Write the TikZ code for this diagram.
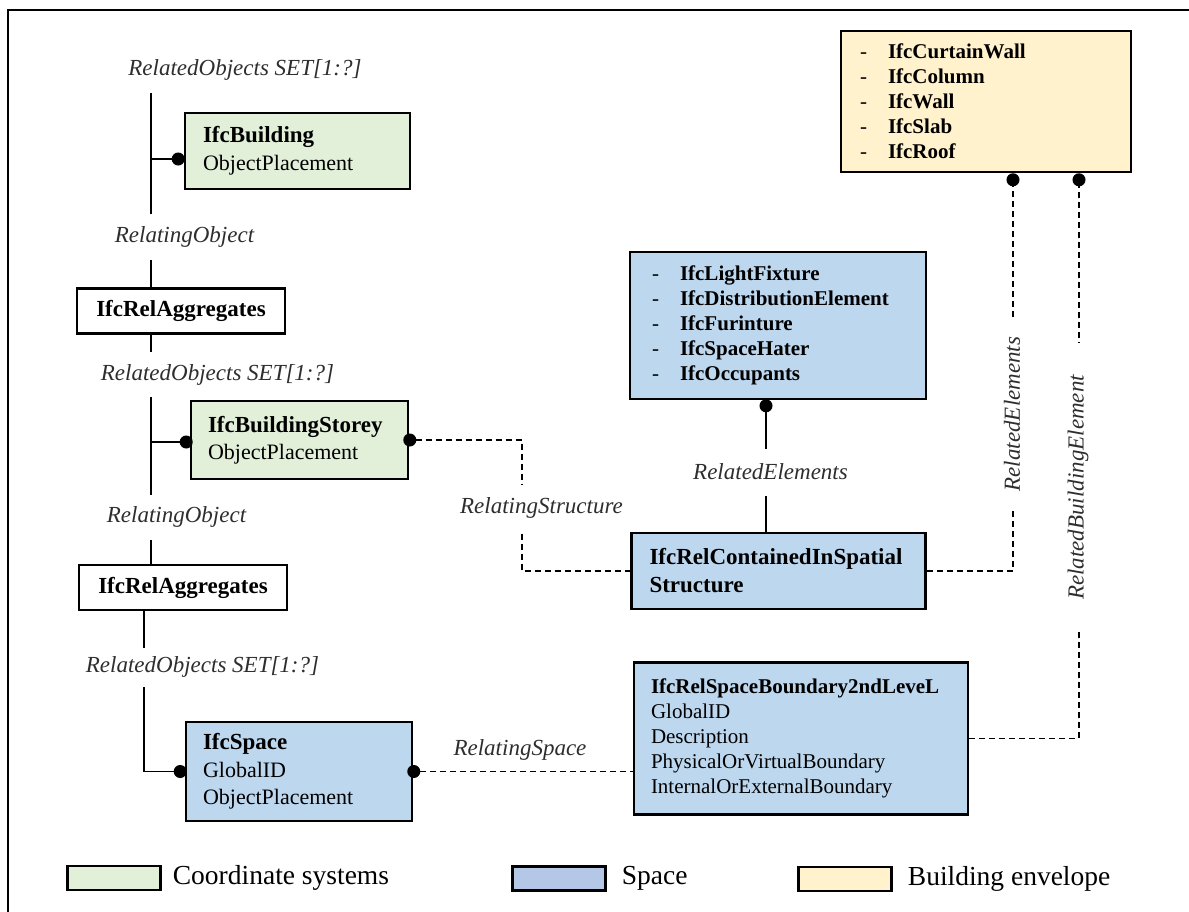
\documentclass[tikz,border=0pt]{standalone}
\usepackage{fontspec}
\setmainfont{Liberation Serif}
\usetikzlibrary{arrows.meta,calc}
\definecolor{cgreen}{HTML}{E2EFD9}
\definecolor{cblue}{HTML}{BDD7EE}
\definecolor{cbluelg}{HTML}{B4C7E7}
\definecolor{cyellow}{HTML}{FFF2CC}
\definecolor{lblgray}{HTML}{2E2E2E}
\newcommand\li[1]{\makebox[28pt][l]{\mdseries -}#1}
\newcommand\hd[1]{{\fontsize{23pt}{28pt}\selectfont\bfseries #1}}
\begin{document}
\begin{tikzpicture}[x=1pt,y=-1pt,
  box/.style={draw, line width=2.6pt, inner ysep=0pt, align=left},
  cbox/.style={draw, line width=2.6pt, inner sep=0pt, align=center, fill=white,
    minimum width=208pt, minimum height=45pt, font=\fontsize{23pt}{28pt}\selectfont\bfseries},
  lbl/.style={font=\fontsize{23pt}{27pt}\selectfont\itshape, text=lblgray, inner xsep=3pt, inner ysep=0pt},
  conn/.style={line width=1.3pt},
  dconn/.style={line width=1.3pt, dash pattern=on 6pt off 4pt},
  dotend/.style={-{Circle[length=13pt]}},
  dotstart/.style={{Circle[length=13pt]}-},
  lgbox/.style={draw, line width=2.4pt, minimum width=93pt, minimum height=24pt, inner sep=0pt},
  lgtext/.style={anchor=west, font=\fontsize{27.5pt}{30pt}\selectfont, inner ysep=0pt}
]
\useasboundingbox (0,0) rectangle (1189,911);
\clip (0,0) rectangle (1189,911);
\draw[line width=2.4pt] (8,930) -- (8,10) -- (1200,10);

% boxes
\node[box, fill=cgreen, text width=189pt, inner xsep=18pt, minimum height=76pt,
  font=\fontsize{22pt}{28pt}\selectfont] (bldg) at (297.5,151) {\hd{IfcBuilding}\\ObjectPlacement};
\node[cbox] (agg1) at (181,311) {IfcRelAggregates};
\node[box, fill=cgreen, text width=183pt, inner xsep=17pt, minimum height=78pt,
  font=\fontsize{22pt}{27pt}\selectfont] (storey) at (299.5,440) {\hd{IfcBuildingStorey}\\ObjectPlacement};
\node[cbox] (agg2) at (183,587.5) {IfcRelAggregates};
\node[box, fill=cblue, text width=192pt, inner xsep=17pt, minimum height=99pt,
  font=\fontsize{22pt}{27.5pt}\selectfont] (space) at (299,771.5) {\hd{IfcSpace}\\GlobalID\\ObjectPlacement};
\node[box, fill=cblue, text width=300pt, inner xsep=17pt, minimum height=152pt,
  font=\fontsize{21pt}{25pt}\selectfont] (srb) at (801,738.5)
  {\textbf{IfcRelSpaceBoundary2ndLeveL}\\GlobalID\\Description\\PhysicalOrVirtualBoundary\\InternalOrExternalBoundary};
\node[box, fill=cblue, text width=252pt, inner xsep=22pt, minimum height=147pt,
  font=\fontsize{21pt}{25pt}\selectfont\bfseries] (light) at (778,325.5)
  {\li{IfcLightFixture}\\\li{IfcDistributionElement}\\\li{IfcFurinture}\\\li{IfcSpaceHater}\\\li{IfcOccupants}};
\node[box, fill=cblue, text width=258pt, inner xsep=18pt, minimum height=76pt,
  font=\fontsize{23pt}{28pt}\selectfont\bfseries] (cont) at (778.5,571)
  {IfcRelContainedInSpatial\\Structure};
\node[box, fill=cyellow, text width=252pt, inner xsep=19pt, minimum height=141pt,
  font=\fontsize{21pt}{25pt}\selectfont\bfseries] (env) at (986,101.5)
  {\li{IfcCurtainWall}\\\li{IfcColumn}\\\li{IfcWall}\\\li{IfcSlab}\\\li{IfcRoof}};

% top label
\node[lbl, minimum height=46pt] (ro1) at (245,70) {RelatedObjects SET[1:?]};

% helper coordinates
\coordinate (x1) at (151,0);
\coordinate (x2) at (144,0);
\coordinate (x3) at (766,0);
\coordinate (x4) at (1013,0);
\coordinate (x5) at (1079,0);
\coordinate (b1) at (151,159);
\coordinate (b2) at (151,442);
\coordinate (j1) at (522,440);

% connectors
\draw[conn] (ro1.south -| x1) -- (agg1.north -| x1);
\draw[conn, dotend, shorten >=-1pt] (b1) -- (b1 -| bldg.west);
\draw[conn] (agg1.south -| x1) -- (agg2.north -| x1);
\draw[conn, dotend, shorten >=-3pt] (b2) -- (b2 -| storey.west);
\draw[conn, dotend, shorten >=-2pt] (agg2.south -| x2) |- (space.west);
\draw[dconn, dotstart, shorten <=-6pt] (storey.east) -- (j1) |- (cont.west);
\draw[conn, dotstart, shorten <=-1pt] (light.south -| x3) -- (cont.north -| x3);
\draw[dconn, dotstart, shorten <=-6pt] (space.east) -- (srb.west |- space.east);
\draw[dconn, dotend] (cont.east) -| (env.south -| x4);
\draw[dconn, dotend] (srb.east) -| (env.south -| x5);

% labels
\node[lbl, fill=white, minimum height=46pt] (rl1) at (184.5,237) {RelatingObject};
\node[lbl, fill=white, minimum height=45pt] (ro2) at (217.5,374.5) {RelatedObjects SET[1:?]};
\node[lbl, fill=white, minimum height=45pt] (rl2) at (176.5,517) {RelatingObject};
\node[lbl, fill=white, minimum height=39pt] (ro3) at (202.5,667) {RelatedObjects SET[1:?]};
\node[lbl, fill=white, minimum height=47pt] (rs) at (541.5,508) {RelatingStructure};
\node[lbl, fill=white, minimum height=47pt] (reh) at (770.5,472) {RelatedElements};
\node[lbl] (rsp) at (520,750) {RelatingSpace};
\node[lbl, fill=white, rotate=90, minimum width=192pt, minimum height=30pt] (rev) at (1012,414) {RelatedElements};
\node[lbl, fill=white, rotate=90, minimum width=289pt, minimum height=30pt] (rbe) at (1078,487.5) {RelatedBuildingElement};

% legend
\node[lgbox, fill=cgreen] (lg1) at (114,878) {};
\node[lgtext, inner xsep=11pt] (lt1) at (lg1.east) {Coordinate systems};
\node[lgbox, fill=cbluelg] (lg2) at (559,878.5) {};
\node[lgtext, inner xsep=15pt] (lt2) at (lg2.east) {Space};
\node[lgbox, fill=cyellow] (lg3) at (845,879) {};
\node[lgtext, inner xsep=15pt] (lt3) at (lg3.east) {Building envelope};
\end{tikzpicture}
\end{document}
